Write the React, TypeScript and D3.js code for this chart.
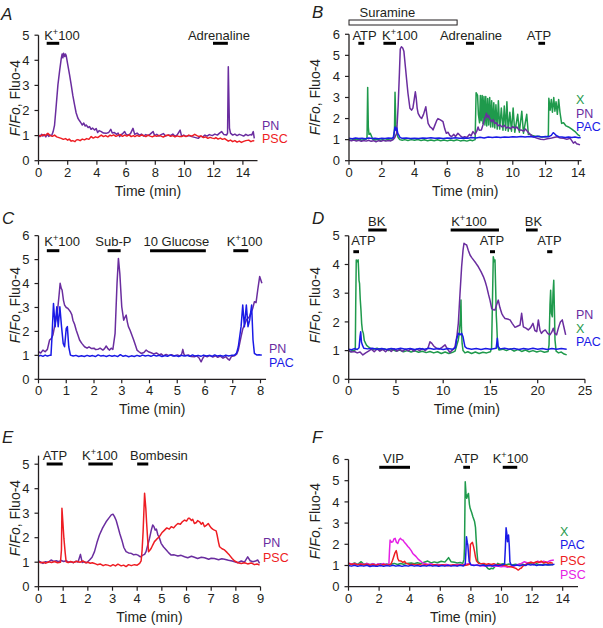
import React from 'react';
import * as d3 from 'd3';

type Pt = [number, number];
type Stim = { label: string; start: number; end: number; at: number; row: number; box?: boolean };
type Series = { name: string; color: string; data: Pt[] };

const PURPLE = '#6a2d9f';
const RED = '#ee1d23';
const GREEN = '#1f9a4c';
const BLUE = '#1a1ae6';
const MAGENTA = '#e520e5';

// ---------- Panel A ----------
const A_PN: Pt[] = [[0,1.0],[0.1,0.96],[0.2,1.05],[0.3,0.98],[0.4,1.04],[0.5,0.95],[0.6,1.06],[0.7,0.97],[0.8,1.02],[0.9,1.0],[1.0,1.15],[1.1,1.42],[1.2,2.1],[1.33,3.02],[1.45,3.6],[1.56,4.08],[1.62,4.25],[1.67,4.1],[1.72,4.28],[1.8,4.15],[1.85,4.25],[1.9,4.18],[2.01,3.81],[2.12,3.45],[2.24,3.02],[2.35,2.6],[2.47,2.22],[2.58,1.9],[2.7,1.69],[2.8,1.6],[2.93,1.49],[3.0,1.42],[3.1,1.5],[3.2,1.38],[3.27,1.42],[3.4,1.32],[3.5,1.36],[3.6,1.25],[3.7,1.3],[3.84,1.22],[3.95,1.28],[4.05,1.12],[4.15,1.2],[4.3,1.16],[4.45,1.1],[4.64,1.09],[4.8,1.12],[4.95,1.25],[5.05,1.1],[5.2,1.12],[5.35,1.05],[5.45,1.1],[5.56,0.96],[5.7,1.05],[5.8,1.1],[5.9,1.16],[6.0,1.05],[6.15,1.02],[6.3,1.08],[6.47,1.29],[6.59,1.05],[6.75,1.1],[6.9,1.02],[7.05,1.06],[7.2,0.98],[7.35,1.04],[7.5,1.0],[7.65,1.06],[7.85,1.16],[7.95,1.0],[8.1,1.05],[8.25,0.98],[8.4,1.04],[8.55,1.08],[8.7,0.98],[8.9,1.02],[9.05,1.0],[9.2,1.06],[9.35,0.97],[9.5,1.03],[9.7,1.22],[9.8,0.98],[9.95,1.02],[10.1,0.97],[10.3,1.0],[10.5,0.96],[10.7,0.93],[10.94,0.89],[11.1,0.98],[11.25,0.95],[11.4,1.02],[11.55,0.98],[11.7,1.04],[11.9,1.0],[12.08,1.06],[12.25,1.02],[12.4,1.1],[12.54,1.16],[12.7,1.04],[12.88,1.02],[12.95,1.1],[13.0,3.74],[13.08,1.3],[13.15,1.1],[13.3,1.02],[13.45,1.06],[13.6,1.0],[13.75,1.05],[13.9,1.02],[14.05,0.98],[14.2,1.05],[14.35,1.0],[14.5,1.04],[14.6,1.02],[14.71,1.16],[14.78,0.89]];
const A_PSC: Pt[] = [[0,1.02],[0.15,0.98],[0.3,1.04],[0.45,1.0],[0.64,1.09],[0.8,1.0],[0.95,0.97],[1.1,1.02],[1.25,0.95],[1.4,0.92],[1.56,0.89],[1.7,0.85],[1.85,0.88],[2.0,0.82],[2.1,0.86],[2.24,0.78],[2.35,0.8],[2.5,0.76],[2.6,0.83],[2.7,0.84],[2.85,0.8],[3.0,0.86],[3.15,0.83],[3.3,0.88],[3.45,0.85],[3.61,0.96],[3.75,0.9],[3.9,0.95],[4.05,0.92],[4.2,0.98],[4.3,1.02],[4.45,0.96],[4.6,1.0],[4.75,0.95],[4.9,1.02],[5.0,0.99],[5.15,1.03],[5.3,0.97],[5.45,1.01],[5.6,1.04],[5.75,0.97],[5.9,1.02],[6.05,0.98],[6.2,1.03],[6.35,0.96],[6.5,1.0],[6.6,0.96],[6.75,1.01],[6.9,0.97],[7.05,1.02],[7.2,1.0],[7.35,0.96],[7.5,1.02],[7.65,0.98],[7.8,0.95],[7.95,1.0],[8.1,0.97],[8.25,1.01],[8.4,0.98],[8.55,0.94],[8.7,1.0],[8.9,1.02],[9.05,0.97],[9.2,1.0],[9.35,0.95],[9.5,0.99],[9.65,0.96],[9.8,0.96],[9.95,1.0],[10.1,0.96],[10.3,1.02],[10.5,0.98],[10.7,1.05],[10.85,1.0],[11.0,0.96],[11.15,0.98],[11.3,0.92],[11.45,0.95],[11.6,0.89],[11.75,0.93],[11.9,0.9],[12.05,0.88],[12.15,0.92],[12.3,0.86],[12.45,0.9],[12.6,0.85],[12.75,0.88],[12.9,0.82],[13.0,0.78],[13.15,0.82],[13.3,0.76],[13.45,0.8],[13.6,0.74],[13.75,0.78],[13.9,0.73],[14.05,0.77],[14.2,0.8],[14.4,0.82],[14.55,0.76],[14.7,0.8],[14.78,0.78]];
const A_STIM: Stim[] = [
  { label: 'K+100', start: 0.56, end: 1.42, at: 1.61, row: 1 },
  { label: 'Adrenaline', start: 11.95, end: 12.97, at: 12.36, row: 1 },
];

// ---------- Panel B ----------
const B_X: Pt[] = [[0,1.0],[0.15,0.97],[0.3,1.02],[0.45,0.98],[0.6,1.03],[0.75,0.97],[0.9,1.0],[1.05,1.02],[1.1,1.1],[1.14,3.48],[1.18,1.6],[1.22,1.25],[1.3,1.3],[1.38,1.15],[1.45,1.02],[1.6,0.98],[1.75,1.02],[1.9,0.97],[2.05,1.0],[2.2,0.96],[2.35,1.01],[2.5,0.98],[2.65,1.0],[2.74,1.1],[2.78,1.6],[2.81,3.25],[2.86,1.7],[2.92,1.3],[3.0,1.1],[3.1,1.0],[3.25,0.97],[3.4,1.0],[3.6,0.96],[3.8,1.0],[4.0,0.97],[4.2,1.01],[4.4,0.96],[4.6,0.99],[4.8,0.95],[5.0,0.98],[5.2,0.95],[5.4,0.99],[5.6,0.95],[5.8,0.98],[6.0,0.94],[6.2,0.98],[6.4,0.95],[6.6,0.99],[6.8,0.94],[7.0,0.97],[7.2,0.93],[7.4,0.98],[7.55,0.95],[7.7,1.0],[7.76,3.23],[7.85,3.1],[7.9,2.2],[7.97,1.8],[8.02,3.1],[8.07,1.9],[8.13,3.1],[8.18,1.75],[8.24,3.05],[8.3,1.7],[8.35,3.05],[8.41,1.65],[8.47,2.95],[8.53,1.7],[8.59,3.0],[8.65,1.6],[8.71,2.85],[8.78,1.6],[8.84,2.75],[8.9,1.55],[8.97,2.65],[9.05,1.5],[9.12,2.85],[9.2,1.5],[9.3,2.5],[9.4,1.45],[9.48,2.6],[9.56,1.45],[9.64,2.8],[9.72,1.4],[9.82,2.3],[9.92,1.4],[10.02,2.5],[10.12,1.35],[10.3,2.2],[10.4,1.35],[10.55,2.35],[10.65,1.3],[10.85,2.2],[10.95,1.25],[11.05,1.25],[11.2,1.2],[11.4,1.15],[11.6,1.16],[11.8,1.12],[12.0,1.14],[12.13,1.15],[12.17,1.2],[12.2,2.96],[12.28,2.4],[12.35,2.9],[12.42,2.3],[12.5,3.0],[12.57,2.35],[12.64,2.8],[12.72,2.2],[12.8,2.9],[12.88,2.3],[12.98,1.77],[13.1,1.8],[13.25,1.65],[13.4,1.6],[13.6,1.5],[13.8,1.38],[13.95,1.25],[14.1,1.17]];
const B_PN: Pt[] = [[0,0.97],[0.15,0.94],[0.3,0.98],[0.45,0.93],[0.6,0.97],[0.75,0.92],[0.9,0.96],[1.05,0.93],[1.2,0.97],[1.35,0.92],[1.5,0.95],[1.65,0.9],[1.8,0.95],[1.95,0.92],[2.1,0.97],[2.25,0.93],[2.4,0.96],[2.55,0.94],[2.7,1.0],[2.8,1.1],[2.91,1.3],[3.0,2.6],[3.08,4.2],[3.13,5.3],[3.2,5.41],[3.28,5.35],[3.35,5.2],[3.45,4.4],[3.52,3.83],[3.6,3.2],[3.72,2.49],[3.82,2.4],[3.9,2.5],[3.98,2.9],[4.05,3.27],[4.1,3.0],[4.16,2.5],[4.22,2.25],[4.32,2.1],[4.43,2.0],[4.55,2.2],[4.69,2.56],[4.75,2.2],[4.83,1.77],[4.95,1.6],[5.05,1.55],[5.13,1.46],[5.25,1.7],[5.35,1.9],[5.43,2.0],[5.55,1.95],[5.65,1.9],[5.74,1.85],[5.85,1.5],[5.94,1.3],[6.05,1.35],[6.15,1.2],[6.25,1.14],[6.4,1.25],[6.5,1.15],[6.65,1.3],[6.8,1.18],[6.95,1.1],[7.06,1.14],[7.2,1.1],[7.35,1.25],[7.45,1.18],[7.57,1.38],[7.7,1.25],[7.8,1.4],[7.88,1.6],[7.95,1.45],[8.08,1.46],[8.18,1.7],[8.28,2.0],[8.34,2.1],[8.39,2.25],[8.45,2.05],[8.52,2.15],[8.59,2.0],[8.7,1.85],[8.8,1.95],[8.9,1.77],[9.0,1.8],[9.1,1.65],[9.2,1.7],[9.35,1.6],[9.5,1.68],[9.6,1.55],[9.71,1.6],[9.85,1.52],[10.0,1.62],[10.12,1.54],[10.25,1.6],[10.38,1.45],[10.5,1.46],[10.65,1.4],[10.78,1.5],[10.9,1.38],[11.0,1.3],[11.1,1.22],[11.3,1.12],[11.5,1.06],[11.7,1.02],[11.9,1.0],[12.1,1.04],[12.3,1.06],[12.5,1.1],[12.7,1.14],[12.9,1.08],[13.1,1.06],[13.3,1.02],[13.5,1.06],[13.6,0.95],[13.7,0.83],[13.8,0.9],[13.9,0.8],[14.0,0.78],[14.1,0.75]];
const B_PAC: Pt[] = [[0,1.06],[0.2,1.04],[0.4,1.08],[0.6,1.05],[0.8,1.07],[1.0,1.04],[1.2,1.08],[1.4,1.05],[1.6,1.07],[1.8,1.04],[2.0,1.06],[2.2,1.05],[2.4,1.08],[2.6,1.06],[2.7,1.1],[2.76,1.35],[2.81,1.6],[2.86,1.45],[2.92,1.55],[2.98,1.3],[3.05,1.2],[3.12,1.1],[3.25,1.06],[3.5,1.08],[3.75,1.05],[4.0,1.07],[4.25,1.05],[4.5,1.08],[4.75,1.06],[5.0,1.09],[5.25,1.06],[5.5,1.08],[5.75,1.05],[6.0,1.08],[6.25,1.06],[6.5,1.09],[6.75,1.06],[7.0,1.08],[7.25,1.07],[7.5,1.1],[7.75,1.08],[8.0,1.11],[8.25,1.08],[8.5,1.12],[8.75,1.1],[9.0,1.13],[9.25,1.1],[9.5,1.13],[9.75,1.11],[10.0,1.14],[10.25,1.12],[10.5,1.15],[10.75,1.12],[11.0,1.15],[11.25,1.13],[11.5,1.16],[11.75,1.13],[12.0,1.15],[12.2,1.14],[12.35,1.2],[12.47,1.33],[12.55,1.28],[12.65,1.2],[12.8,1.14],[13.0,1.12],[13.2,1.1],[13.4,1.13],[13.6,1.1],[13.8,1.12],[14.0,1.09],[14.15,1.1]];
const B_STIM: Stim[] = [
  { label: 'Suramine', start: 0, end: 6.6, at: 2.34, row: 0, box: true },
  { label: 'ATP', start: 0.57, end: 0.93, at: 0.95, row: 1 },
  { label: 'K+100', start: 2.1, end: 2.87, at: 3.11, row: 1 },
  { label: 'Adrenaline', start: 7.14, end: 7.63, at: 7.45, row: 1 },
  { label: 'ATP', start: 11.56, end: 11.97, at: 11.6, row: 1 },
];

// ---------- Panel C ----------
const C_PN: Pt[] = [[0,1.15],[0.08,1.1],[0.16,1.22],[0.24,1.15],[0.32,1.25],[0.4,1.64],[0.46,1.7],[0.52,1.85],[0.6,2.34],[0.65,2.6],[0.7,3.03],[0.74,3.5],[0.78,4.01],[0.82,3.8],[0.85,3.73],[0.9,3.3],[0.94,3.1],[1.0,3.0],[1.06,2.96],[1.1,2.9],[1.15,2.82],[1.2,2.7],[1.24,2.47],[1.3,2.3],[1.36,2.05],[1.42,1.85],[1.48,1.64],[1.56,1.5],[1.66,1.36],[1.75,1.3],[1.82,1.35],[1.9,1.29],[2.0,1.3],[2.06,1.24],[2.14,1.25],[2.22,1.3],[2.32,1.22],[2.38,1.28],[2.44,1.39],[2.5,1.28],[2.56,1.22],[2.62,1.3],[2.68,1.25],[2.76,1.92],[2.83,4.01],[2.88,5.05],[2.93,4.43],[3.0,3.03],[3.07,2.47],[3.12,2.6],[3.16,2.68],[3.2,2.4],[3.24,2.2],[3.3,2.05],[3.34,1.92],[3.43,1.64],[3.5,1.4],[3.55,1.22],[3.62,1.15],[3.7,1.08],[3.8,1.12],[3.88,1.22],[3.96,1.15],[4.06,1.11],[4.15,1.06],[4.25,1.1],[4.35,1.02],[4.42,1.06],[4.5,0.98],[4.6,1.04],[4.7,0.99],[4.8,1.03],[4.9,0.97],[5.0,1.02],[5.1,0.98],[5.16,1.05],[5.2,1.25],[5.24,1.05],[5.3,0.98],[5.4,1.02],[5.5,0.95],[5.62,0.94],[5.7,0.98],[5.78,0.9],[5.86,0.73],[5.92,0.88],[5.98,0.98],[6.08,0.94],[6.18,1.0],[6.28,0.93],[6.38,0.98],[6.46,0.92],[6.55,0.97],[6.65,0.88],[6.75,0.95],[6.82,0.85],[6.88,0.8],[6.95,0.95],[7.06,0.98],[7.14,1.05],[7.2,1.22],[7.3,1.78],[7.36,2.1],[7.42,2.27],[7.5,2.5],[7.6,2.61],[7.66,2.8],[7.72,2.96],[7.78,3.24],[7.84,3.2],[7.9,3.73],[7.97,4.29],[8.05,4.01]];
const C_PAC: Pt[] = [[0,0.97],[0.08,1.0],[0.16,0.96],[0.24,1.01],[0.32,0.97],[0.4,1.0],[0.45,1.0],[0.48,1.64],[0.54,3.17],[0.6,2.2],[0.66,3.03],[0.71,2.2],[0.77,3.03],[0.83,2.2],[0.89,1.5],[0.94,1.36],[1.0,2.13],[1.04,2.2],[1.09,1.36],[1.15,1.01],[1.25,0.97],[1.35,1.0],[1.45,0.95],[1.55,0.98],[1.65,0.95],[1.75,1.0],[1.85,0.96],[1.95,0.99],[2.05,0.95],[2.15,1.02],[2.25,0.97],[2.35,0.99],[2.45,0.95],[2.55,1.0],[2.65,0.96],[2.75,0.99],[2.85,0.95],[2.95,1.03],[3.05,0.96],[3.15,0.99],[3.25,0.94],[3.35,0.98],[3.45,0.95],[3.55,1.0],[3.65,0.96],[3.75,1.01],[3.85,0.97],[3.95,1.0],[4.05,0.96],[4.15,1.01],[4.25,0.97],[4.35,1.0],[4.45,0.95],[4.55,0.99],[4.65,0.96],[4.75,1.02],[4.85,0.97],[4.95,0.99],[5.05,0.95],[5.15,1.0],[5.25,0.97],[5.35,1.0],[5.45,0.96],[5.55,1.02],[5.65,0.97],[5.75,1.0],[5.85,0.96],[5.95,1.01],[6.05,0.97],[6.15,1.0],[6.25,0.96],[6.35,1.02],[6.45,0.97],[6.55,1.0],[6.65,0.96],[6.75,1.01],[6.85,0.97],[6.95,1.0],[7.06,1.0],[7.14,1.1],[7.2,1.36],[7.3,2.2],[7.36,3.1],[7.42,2.2],[7.49,3.1],[7.55,2.2],[7.61,2.47],[7.68,3.1],[7.73,1.64],[7.78,1.08],[7.86,1.02],[7.95,1.03],[8.05,1.01]];
const C_STIM: Stim[] = [
  { label: 'K+100', start: 0.3, end: 0.75, at: 0.85, row: 1 },
  { label: 'Sub-P', start: 2.49, end: 2.96, at: 2.7, row: 1 },
  { label: '10 Glucose', start: 4.02, end: 6.03, at: 4.97, row: 1 },
  { label: 'K+100', start: 7.02, end: 7.56, at: 7.43, row: 1 },
];

// ---------- Panel D ----------
const D_X: Pt[] = [[0,1.0],[0.2,0.96],[0.4,1.02],[0.6,0.98],[0.7,1.05],[0.74,2.5],[0.8,4.16],[0.9,4.1],[1.0,4.16],[1.05,3.8],[1.09,3.45],[1.15,3.33],[1.22,2.8],[1.3,2.4],[1.37,1.95],[1.45,1.7],[1.55,1.6],[1.65,1.35],[1.79,1.25],[1.9,1.18],[2.05,1.14],[2.3,1.08],[2.6,1.05],[3.0,1.08],[3.4,1.03],[3.8,1.06],[4.2,1.0],[4.6,1.04],[5.0,0.98],[5.4,1.02],[5.8,0.96],[6.2,1.0],[6.6,0.95],[7.0,0.99],[7.4,0.94],[7.8,0.98],[8.2,0.93],[8.6,0.97],[9.0,0.92],[9.4,0.96],[9.8,0.9],[10.2,0.95],[10.6,0.9],[11.0,0.94],[11.25,0.98],[11.45,1.2],[11.6,1.37],[11.7,1.6],[11.78,1.95],[11.83,2.2],[11.88,2.76],[11.93,1.8],[12.0,1.25],[12.1,1.0],[12.3,0.92],[12.6,0.96],[13.0,0.9],[13.4,0.95],[13.8,0.9],[14.2,0.94],[14.6,0.92],[15.0,0.96],[15.12,1.1],[15.2,2.5],[15.3,4.27],[15.4,4.1],[15.48,4.16],[15.55,3.2],[15.62,2.2],[15.66,1.95],[15.76,1.14],[15.9,1.02],[16.3,1.05],[16.7,1.0],[17.1,1.06],[17.5,0.98],[17.9,1.04],[18.3,0.97],[18.7,1.02],[19.1,0.96],[19.5,1.0],[19.9,0.95],[20.3,0.99],[20.7,0.94],[21.1,0.97],[21.2,1.2],[21.3,2.6],[21.37,3.1],[21.45,2.3],[21.55,2.18],[21.62,3.0],[21.7,3.45],[21.77,2.4],[21.83,1.37],[21.95,0.98],[22.2,0.92],[22.5,0.95],[22.8,0.88],[23.07,0.85]];
const D_PN: Pt[] = [[0,1.0],[0.3,0.95],[0.6,0.97],[0.9,0.92],[1.2,0.95],[1.5,0.85],[1.8,0.92],[2.1,0.98],[2.4,1.05],[2.7,0.96],[3.0,1.06],[3.3,0.98],[3.6,1.04],[3.9,0.96],[4.2,1.05],[4.5,0.97],[4.8,1.06],[5.1,0.98],[5.4,1.04],[5.7,0.97],[6.0,1.05],[6.3,0.99],[6.6,1.06],[6.9,0.98],[7.2,1.05],[7.5,1.0],[7.8,1.07],[8.1,1.0],[8.4,1.1],[8.6,1.31],[8.8,1.25],[9.0,1.16],[9.3,1.08],[9.6,1.05],[9.9,1.12],[10.2,1.2],[10.4,1.08],[10.72,0.93],[10.9,1.0],[11.1,1.05],[11.25,1.14],[11.45,1.5],[11.6,1.95],[11.78,3.0],[11.95,3.92],[12.1,4.5],[12.2,4.74],[12.35,4.7],[12.48,4.68],[12.65,4.5],[12.84,4.33],[13.0,4.25],[13.2,4.16],[13.45,4.05],[13.72,3.92],[14.0,3.75],[14.25,3.58],[14.45,3.4],[14.6,3.23],[14.8,2.95],[14.95,2.76],[15.13,2.47],[15.3,2.42],[15.48,2.41],[15.65,2.6],[15.83,2.76],[16.0,2.5],[16.19,2.3],[16.35,2.2],[16.54,2.12],[16.8,2.1],[17.07,2.07],[17.3,1.95],[17.6,1.81],[17.85,1.85],[18.13,1.89],[18.3,2.3],[18.48,1.83],[18.75,1.78],[19.0,1.72],[19.25,1.8],[19.5,1.95],[19.7,1.7],[19.9,1.66],[20.07,2.07],[20.25,1.7],[20.4,1.6],[20.6,1.68],[20.8,1.72],[21.05,1.6],[21.3,1.55],[21.5,1.65],[21.65,1.78],[21.8,1.6],[22.0,1.55],[22.2,1.8],[22.4,2.0],[22.6,2.07],[22.8,1.78],[22.96,1.55]];
const D_PAC: Pt[] = [[0,1.05],[0.3,1.03],[0.6,1.07],[0.9,1.04],[1.1,1.1],[1.2,1.5],[1.27,1.66],[1.35,1.3],[1.45,1.19],[1.6,1.08],[2.0,1.06],[2.5,1.08],[3.0,1.05],[3.5,1.07],[4.0,1.04],[4.5,1.07],[5.0,1.05],[5.5,1.08],[6.0,1.05],[6.5,1.07],[7.0,1.04],[7.5,1.07],[8.0,1.05],[8.5,1.08],[9.0,1.05],[9.5,1.07],[10.0,1.04],[10.5,1.07],[11.0,1.05],[11.3,1.1],[11.42,1.4],[11.6,1.6],[11.8,1.55],[11.95,1.6],[12.1,1.48],[12.2,1.3],[12.3,1.14],[12.5,1.08],[13.0,1.05],[13.5,1.07],[14.0,1.04],[14.5,1.07],[15.0,1.05],[15.6,1.08],[15.73,1.43],[15.82,1.15],[16.0,1.06],[16.5,1.08],[17.0,1.05],[17.5,1.07],[18.0,1.04],[18.5,1.07],[19.0,1.05],[19.5,1.08],[20.0,1.05],[20.5,1.07],[21.0,1.04],[21.5,1.07],[22.0,1.05],[22.5,1.07],[23.07,1.05]];
const D_STIM: Stim[] = [
  { label: 'ATP', start: 0.49, end: 1.09, at: 1.57, row: 2 },
  { label: 'BK', start: 2.07, end: 4.02, at: 2.96, row: 1 },
  { label: 'K+100', start: 10.79, end: 15.9, at: 12.73, row: 1 },
  { label: 'ATP', start: 14.95, end: 15.48, at: 15.16, row: 2 },
  { label: 'BK', start: 18.76, end: 20.0, at: 19.56, row: 1 },
  { label: 'ATP', start: 21.0, end: 21.55, at: 21.25, row: 2 },
];

// ---------- Panel E ----------
const E_PN: Pt[] = [[0,1.05],[0.1,1.0],[0.18,0.95],[0.28,1.02],[0.4,1.0],[0.51,1.09],[0.62,1.03],[0.72,1.06],[0.82,1.02],[0.92,1.07],[1.02,1.03],[1.12,1.06],[1.22,1.0],[1.32,1.02],[1.42,0.98],[1.52,1.04],[1.6,1.0],[1.7,1.32],[1.77,0.99],[1.85,1.02],[1.95,0.98],[2.07,1.09],[2.17,1.2],[2.27,1.43],[2.37,1.8],[2.47,2.11],[2.6,2.4],[2.74,2.65],[2.85,2.8],[2.95,2.93],[3.02,2.96],[3.08,2.86],[3.15,2.7],[3.22,2.45],[3.3,2.15],[3.38,1.9],[3.46,1.6],[3.55,1.43],[3.65,1.38],[3.76,1.36],[3.86,1.3],[3.95,1.32],[4.03,1.29],[4.13,1.22],[4.23,1.29],[4.3,1.32],[4.36,1.43],[4.43,1.7],[4.5,1.97],[4.57,2.3],[4.63,2.52],[4.68,2.45],[4.73,2.31],[4.78,2.35],[4.84,2.11],[4.9,2.0],[4.97,1.77],[5.07,1.62],[5.18,1.5],[5.28,1.38],[5.38,1.29],[5.5,1.3],[5.65,1.25],[5.78,1.28],[5.92,1.22],[6.05,1.18],[6.2,1.24],[6.32,1.2],[6.45,1.15],[6.6,1.2],[6.73,1.18],[6.9,1.12],[7.0,1.16],[7.13,1.15],[7.3,1.1],[7.43,1.14],[7.54,1.12],[7.7,1.08],[7.85,1.05],[7.95,1.02],[8.08,0.98],[8.22,1.05],[8.35,1.0],[8.48,1.22],[8.58,1.06],[8.69,1.02],[8.8,1.05],[8.89,1.09],[8.96,0.95]];
const E_PSC: Pt[] = [[0,1.02],[0.1,0.98],[0.2,1.0],[0.3,0.96],[0.42,1.02],[0.53,0.99],[0.65,1.03],[0.77,0.98],[0.89,1.0],[0.93,1.5],[0.95,3.2],[0.99,2.6],[1.03,1.97],[1.08,1.4],[1.12,1.02],[1.2,0.98],[1.3,1.03],[1.42,0.99],[1.55,1.04],[1.68,1.0],[1.8,1.05],[1.9,0.98],[2.0,1.0],[2.1,0.96],[2.18,0.98],[2.27,0.95],[2.38,0.9],[2.5,0.93],[2.62,0.86],[2.72,0.9],[2.81,0.88],[2.92,0.84],[3.02,0.9],[3.12,0.85],[3.22,0.92],[3.35,0.85],[3.45,0.88],[3.55,0.82],[3.65,0.9],[3.76,0.86],[3.89,0.9],[4.0,0.88],[4.1,0.95],[4.16,1.05],[4.2,1.5],[4.24,2.24],[4.3,3.81],[4.35,3.2],[4.38,2.65],[4.42,2.0],[4.46,1.43],[4.52,1.5],[4.57,1.57],[4.63,1.7],[4.7,1.84],[4.8,1.95],[4.9,2.04],[5.0,2.2],[5.11,2.31],[5.2,2.4],[5.3,2.35],[5.38,2.45],[5.48,2.4],[5.56,2.5],[5.65,2.58],[5.75,2.55],[5.83,2.65],[5.92,2.72],[6.0,2.68],[6.07,2.79],[6.12,2.79],[6.2,2.7],[6.25,2.75],[6.32,2.58],[6.4,2.62],[6.45,2.7],[6.53,2.65],[6.6,2.55],[6.66,2.62],[6.73,2.45],[6.8,2.5],[6.88,2.58],[6.93,2.5],[7.0,2.4],[7.06,2.35],[7.13,2.31],[7.2,2.28],[7.24,2.11],[7.3,1.8],[7.34,1.63],[7.44,1.55],[7.54,1.5],[7.64,1.4],[7.74,1.29],[7.85,1.15],[7.95,1.05],[8.08,0.98],[8.22,0.95],[8.35,0.98],[8.48,0.93],[8.62,0.97],[8.75,0.9],[8.86,0.93],[8.96,0.88]];
const E_STIM: Stim[] = [
  { label: 'ATP', start: 0.33, end: 0.98, at: 0.67, row: 1 },
  { label: 'K+100', start: 2.02, end: 3.01, at: 2.49, row: 1 },
  { label: 'Bombesin', start: 4.0, end: 4.45, at: 4.88, row: 1 },
];

// ---------- Panel F ----------
const F_X: Pt[] = [[0,1.1],[0.2,1.06],[0.4,1.12],[0.6,1.05],[0.83,1.18],[1.0,1.06],[1.2,1.1],[1.4,1.04],[1.6,1.09],[1.8,1.03],[1.92,1.05],[2.1,1.08],[2.3,1.03],[2.5,1.07],[2.7,1.04],[2.9,1.08],[3.0,1.1],[3.2,1.05],[3.4,1.09],[3.6,1.06],[3.8,1.1],[4.1,1.12],[4.3,1.08],[4.5,1.13],[4.7,1.09],[4.9,1.14],[5.18,1.21],[5.4,1.12],[5.6,1.17],[5.8,1.13],[6.06,1.2],[6.3,1.16],[6.54,1.37],[6.7,1.18],[6.93,1.15],[7.1,1.12],[7.3,1.14],[7.47,1.1],[7.55,1.3],[7.58,1.81],[7.63,4.95],[7.68,4.4],[7.73,4.17],[7.78,4.3],[7.84,4.4],[7.9,3.9],[7.95,3.7],[8.05,3.5],[8.13,3.3],[8.24,3.07],[8.3,2.8],[8.34,2.28],[8.4,1.6],[8.45,1.18],[8.6,1.1],[8.75,1.08],[8.89,1.05],[9.0,0.95],[9.11,0.86],[9.22,0.82],[9.33,0.87],[9.45,0.85],[9.6,0.98],[9.76,1.1],[9.9,1.05],[10.1,1.08],[10.3,1.04],[10.5,1.07],[10.7,1.03],[10.9,1.06],[11.07,1.04],[11.3,1.08],[11.5,1.03],[11.7,1.07],[11.94,1.1],[12.1,1.04],[12.3,1.08],[12.5,1.02],[12.8,1.06],[13.0,1.02],[13.2,1.06],[13.36,1.04]];
const F_PAC: Pt[] = [[0,1.0],[0.2,0.97],[0.4,1.01],[0.6,0.96],[0.8,1.0],[1.0,0.97],[1.2,1.01],[1.4,0.95],[1.6,0.99],[1.8,0.96],[1.92,0.97],[2.1,1.0],[2.3,0.96],[2.5,1.0],[2.7,0.97],[2.9,1.01],[3.1,0.97],[3.3,1.0],[3.5,0.96],[3.7,1.0],[3.9,0.97],[4.1,1.01],[4.3,0.97],[4.5,1.0],[4.7,0.96],[4.9,1.0],[5.1,0.97],[5.3,1.01],[5.5,0.97],[5.7,1.0],[5.9,0.96],[6.1,1.0],[6.3,0.97],[6.5,1.01],[6.7,0.97],[6.9,1.0],[7.1,0.97],[7.3,1.01],[7.5,0.98],[7.63,1.06],[7.67,1.6],[7.71,2.36],[7.76,2.1],[7.8,1.96],[7.85,1.5],[7.89,1.18],[8.02,1.02],[8.2,1.0],[8.4,1.03],[8.6,0.99],[8.8,1.02],[9.0,0.98],[9.2,1.01],[9.4,0.98],[9.6,1.02],[9.8,0.99],[10.0,1.02],[10.2,1.06],[10.25,1.8],[10.3,2.78],[10.35,2.5],[10.39,2.12],[10.46,2.44],[10.51,1.9],[10.55,1.18],[10.63,1.02],[10.8,1.0],[11.0,1.02],[11.2,0.99],[11.4,1.03],[11.6,1.0],[11.72,1.06],[11.9,1.02],[12.1,1.05],[12.3,1.0],[12.5,1.04],[12.7,1.01],[12.9,1.05],[13.1,1.02],[13.3,1.04],[13.46,1.06]];
const F_PSC1: Pt[] = [[0,1.1],[0.2,1.05],[0.4,1.08],[0.6,1.03],[0.8,1.07],[1.0,1.02],[1.2,1.06],[1.4,1.01],[1.6,1.05],[1.8,1.0],[1.92,1.04],[2.1,1.0],[2.3,1.05],[2.5,1.01],[2.7,1.04],[2.79,1.08],[2.88,1.25],[2.96,1.42],[3.04,1.6],[3.12,1.7],[3.17,1.55],[3.22,1.33],[3.3,1.22],[3.44,1.21],[3.55,1.15],[3.66,1.2],[3.77,1.1],[3.88,1.08],[4.0,1.04],[4.2,1.06],[4.4,1.02],[4.6,1.05],[4.8,1.01],[5.0,1.04],[5.3,1.0],[5.6,1.04],[5.9,1.0],[6.2,1.03],[6.5,0.99],[6.8,1.03],[7.1,1.0],[7.3,1.02],[7.58,1.0],[7.75,1.02],[7.91,1.06],[7.94,1.5],[7.97,1.99],[8.04,2.05],[8.1,2.09],[8.17,1.9],[8.24,1.65],[8.3,1.4],[8.37,1.21],[8.5,1.1],[8.67,1.08],[8.85,1.1],[9.0,1.05],[9.15,1.08],[9.33,1.05],[9.5,1.08],[9.7,1.03],[9.9,1.05],[10.05,1.0],[10.2,1.02],[10.4,0.97],[10.63,0.94],[10.8,0.9],[10.96,0.86],[11.05,0.8],[11.11,0.79],[11.2,0.85],[11.3,0.88],[11.4,0.98],[11.55,1.02],[11.7,1.1],[11.94,1.15],[12.1,1.12],[12.3,1.18],[12.45,1.14],[12.59,1.21],[12.75,1.12],[12.9,1.16],[13.05,1.1],[13.2,1.14],[13.36,1.1]];
const F_PSC2: Pt[] = [[0,1.12],[0.2,1.06],[0.4,1.1],[0.6,1.04],[0.8,1.08],[1.05,1.05],[1.2,1.1],[1.4,1.04],[1.6,1.08],[1.8,1.03],[1.92,1.08],[2.1,1.05],[2.3,1.09],[2.5,1.04],[2.64,1.06],[2.68,1.7],[2.72,2.2],[2.8,2.1],[2.9,2.12],[2.97,2.25],[3.05,2.28],[3.13,2.1],[3.22,2.04],[3.3,2.2],[3.4,2.28],[3.47,2.22],[3.55,2.2],[3.65,2.1],[3.77,2.0],[3.88,1.9],[3.99,1.81],[4.1,1.7],[4.2,1.57],[4.3,1.5],[4.42,1.42],[4.55,1.3],[4.71,1.21],[4.85,1.12],[4.97,1.1],[5.2,1.05],[5.4,1.08],[5.6,1.03],[5.84,1.05],[6.1,1.02],[6.4,1.05],[6.7,1.0],[7.0,1.04],[7.15,1.05],[7.4,1.02],[7.6,1.05],[7.8,1.08],[8.0,1.04],[8.2,1.02],[8.5,1.0],[8.89,0.98],[9.2,1.0],[9.5,0.96],[9.75,0.98],[9.98,0.94],[10.2,0.96],[10.4,0.92],[10.63,0.95],[10.85,0.98],[11.1,1.05],[11.3,1.1],[11.5,1.18],[11.7,1.12],[11.9,1.16],[12.1,1.1],[12.37,1.21],[12.55,1.14],[12.75,1.2],[12.95,1.15],[13.15,1.22],[13.42,1.26]];
const F_STIM: Stim[] = [
  { label: 'VIP', start: 2.01, end: 4.02, at: 2.94, row: 1 },
  { label: 'ATP', start: 7.5, end: 7.94, at: 7.71, row: 1 },
  { label: 'K+100', start: 10.08, end: 11.03, at: 10.59, row: 1 },
];

const TICKS_0_14 = [0, 2, 4, 6, 8, 10, 12, 14];
const TICKS_0_8 = [0, 1, 2, 3, 4, 5, 6, 7, 8];
const TICKS_0_9 = [0, 1, 2, 3, 4, 5, 6, 7, 8, 9];
const TICKS_0_25 = [0, 5, 10, 15, 20, 25];
const Y_0_5 = [0, 1, 2, 3, 4, 5];
const Y_0_6 = [0, 1, 2, 3, 4, 5, 6];

type PanelCfg = {
  letter: string;
  series: Series[]; // drawing order
  legend: Series[];
  stim: Stim[];
  xTicks: number[];
  yTicks: number[];
  xMax: number;
  yMax: number;
  yAxisMax: number;
  layout: {
    x0: number; ppx: number; y0: number; ppy: number;
    rows: Record<number, { text: number; bar: number; bar2?: number }>;
    legendX: number; legendY: number[];
    letterX: number; letterY: number; yTitleX: number; yTitleY: number;
  };
};

const sPN = (d: Pt[]) => ({ name: 'PN', color: PURPLE, data: d });
const sPSC = (d: Pt[], c = RED) => ({ name: 'PSC', color: c, data: d });
const sX = (d: Pt[]) => ({ name: 'X', color: GREEN, data: d });
const sPAC = (d: Pt[]) => ({ name: 'PAC', color: BLUE, data: d });

const PANELS: PanelCfg[] = [
  {
    letter: 'A', series: [sPN(A_PN), sPSC(A_PSC)], legend: [sPN(A_PN), sPSC(A_PSC)], stim: A_STIM,
    xTicks: TICKS_0_14, yTicks: Y_0_5, xMax: 15, yMax: 5, yAxisMax: 5,
    layout: { x0: 38.5, ppx: 14.6, y0: 160.7, ppy: 25.1, rows: { 1: { text: 40, bar: 43.3 } },
      legendX: 262, legendY: [129.5, 142.5], letterX: 1, letterY: 20, yTitleX: 15, yTitleY: 98 },
  },
  {
    letter: 'B', series: [sX(B_X), sPN(B_PN), sPAC(B_PAC)], legend: [sX(B_X), sPN(B_PN), sPAC(B_PAC)], stim: B_STIM,
    xTicks: TICKS_0_14, yTicks: Y_0_6, xMax: 14.2, yMax: 6, yAxisMax: 6,
    layout: { x0: 349, ppx: 16.38, y0: 160.7, ppy: 21.07,
      rows: { 0: { text: 17, bar: 20, bar2: 25 }, 1: { text: 39.5, bar: 43.3 } },
      legendX: 576, legendY: [104, 117.5, 131], letterX: 312, letterY: 18, yTitleX: 315, yTitleY: 97 },
  },
  {
    letter: 'C', series: [sPN(C_PN), sPAC(C_PAC)], legend: [sPN(C_PN), sPAC(C_PAC)], stim: C_STIM,
    xTicks: TICKS_0_8, yTicks: Y_0_6, xMax: 8.2, yMax: 6, yAxisMax: 6,
    layout: { x0: 38.5, ppx: 27.75, y0: 379.3, ppy: 23.94, rows: { 1: { text: 245.7, bar: 250.7 } },
      legendX: 269, legendY: [353, 366.5], letterX: 2, letterY: 224, yTitleX: 15, yTitleY: 305 },
  },
  {
    letter: 'D', series: [sX(D_X), sPN(D_PN), sPAC(D_PAC)], legend: [sPN(D_PN), sX(D_X), sPAC(D_PAC)], stim: D_STIM,
    xTicks: TICKS_0_25, yTicks: Y_0_5, xMax: 25, yMax: 5, yAxisMax: 5,
    layout: { x0: 348.7, ppx: 9.45, y0: 379.3, ppy: 28.7,
      rows: { 1: { text: 225.7, bar: 230 }, 2: { text: 245, bar: 251.7 } },
      legendX: 576, legendY: [319, 332.5, 346], letterX: 312, letterY: 224, yTitleX: 315, yTitleY: 305 },
  },
  {
    letter: 'E', series: [sPN(E_PN), sPSC(E_PSC)], legend: [sPN(E_PN), sPSC(E_PSC)], stim: E_STIM,
    xTicks: TICKS_0_9, yTicks: Y_0_5, xMax: 9, yMax: 5, yAxisMax: 5.35,
    layout: { x0: 38.5, ppx: 24.67, y0: 586.7, ppy: 24.5, rows: { 1: { text: 460, bar: 464 } },
      legendX: 263, legendY: [546.5, 561.7], letterX: 2, letterY: 443, yTitleX: 15, yTitleY: 518 },
  },
  {
    letter: 'F', series: [sX(F_X), sPSC(F_PSC2, MAGENTA), sPSC(F_PSC1), sPAC(F_PAC)],
    legend: [sX(F_X), sPAC(F_PAC), sPSC(F_PSC1), sPSC(F_PSC2, MAGENTA)], stim: F_STIM,
    xTicks: TICKS_0_14, yTicks: Y_0_6, xMax: 15, yMax: 6, yAxisMax: 6,
    layout: { x0: 348.5, ppx: 15.3, y0: 586.7, ppy: 21.2, rows: { 1: { text: 463.3, bar: 467.3 } },
      legendX: 560, legendY: [535.5, 548.5, 565, 578.5], letterX: 312, letterY: 443, yTitleX: 315, yTitleY: 521 },
  },
];

const FONT = '"Liberation Sans", Arial, Helvetica, sans-serif';
const INK = '#231f20';

function Label({ text, x, y, size }: { text: string; x: number; y: number; size: number }) {
  if (text.startsWith('K+')) {
    return (
      <text x={x} y={y} textAnchor="middle" fontSize={size} fill={INK}>
        <tspan>K</tspan>
        <tspan fontSize={size * 0.7} dy={-5}>+</tspan>
        <tspan dy={5}>{text.slice(2)}</tspan>
      </text>
    );
  }
  return (
    <text x={x} y={y} textAnchor="middle" fontSize={size} fill={INK}>{text}</text>
  );
}

function Panel({ cfg }: { cfg: PanelCfg }) {
  const L = cfg.layout;
  const x = d3.scaleLinear().domain([0, cfg.xMax]).range([L.x0, L.x0 + cfg.xMax * L.ppx]);
  const y = d3.scaleLinear().domain([0, cfg.yMax]).range([L.y0, L.y0 - cfg.yMax * L.ppy]);
  const line = d3.line<Pt>().x((d) => x(d[0])).y((d) => y(d[1]));
  const xEnd = x(cfg.xMax);
  const yTop = y(cfg.yAxisMax);
  const midX = (L.x0 + xEnd) / 2;
  return (
    <g fontFamily={FONT}>
      <text x={L.letterX} y={L.letterY} fontSize={17} fontStyle="italic" fill={INK}>{cfg.letter}</text>
      {cfg.series.map((s, i) => (
        <path key={i} d={line(s.data) || ''} fill="none" stroke={s.color} strokeWidth={1.5} strokeLinejoin="round" />
      ))}
      <line x1={L.x0} x2={xEnd} y1={L.y0} y2={L.y0} stroke={INK} strokeWidth={1.3} />
      <line x1={L.x0} x2={L.x0} y1={L.y0} y2={yTop} stroke={INK} strokeWidth={1.3} />
      {cfg.xTicks.map((t) => (
        <g key={'x' + t}>
          <line x1={x(t)} x2={x(t)} y1={L.y0} y2={L.y0 + 4} stroke={INK} strokeWidth={1.2} />
          <text x={x(t)} y={L.y0 + 16} textAnchor="middle" fontSize={13} fill={INK}>{t}</text>
        </g>
      ))}
      {cfg.yTicks.map((t) => (
        <g key={'y' + t}>
          <line x1={L.x0 - 4} x2={L.x0} y1={y(t)} y2={y(t)} stroke={INK} strokeWidth={1.2} />
          <text x={L.x0 - 9} y={y(t) + 4.6} textAnchor="end" fontSize={13} fill={INK}>{t}</text>
        </g>
      ))}
      <text x={midX} y={L.y0 + 35} textAnchor="middle" fontSize={14} fill={INK}>Time (min)</text>
      <text transform={`translate(${L.yTitleX + 5},${L.yTitleY}) rotate(-90)`} textAnchor="middle" fontSize={14} fill={INK}>
        <tspan fontStyle="italic">F</tspan>/<tspan fontStyle="italic">Fo</tspan>, Fluo-4
      </text>
      {cfg.stim.map((s, i) => {
        const row = L.rows[s.row];
        return (
          <g key={'s' + i}>
            {s.box ? (
              <rect x={x(s.start)} y={row.bar} width={x(s.end) - x(s.start)} height={(row.bar2 || row.bar) - row.bar}
                fill="none" stroke={INK} strokeWidth={1} />
            ) : (
              <line x1={x(s.start)} x2={x(s.end)} y1={row.bar} y2={row.bar} stroke="#000" strokeWidth={3} />
            )}
            <Label text={s.label} x={x(s.at)} y={row.text} size={13} />
          </g>
        );
      })}
      {cfg.legend.map((s, i) => (
        <text key={'l' + i} x={L.legendX} y={L.legendY[i]} fontSize={12.5} fill={s.color}>{s.name}</text>
      ))}
    </g>
  );
}

export default function App() {
  return (
    <svg width={603} height={628} style={{ position: 'absolute', left: 0, top: 0, background: '#fff' }}>
      <rect width={603} height={628} fill="#fff" />
      {PANELS.map((p) => (
        <Panel key={p.letter} cfg={p} />
      ))}
    </svg>
  );
}
